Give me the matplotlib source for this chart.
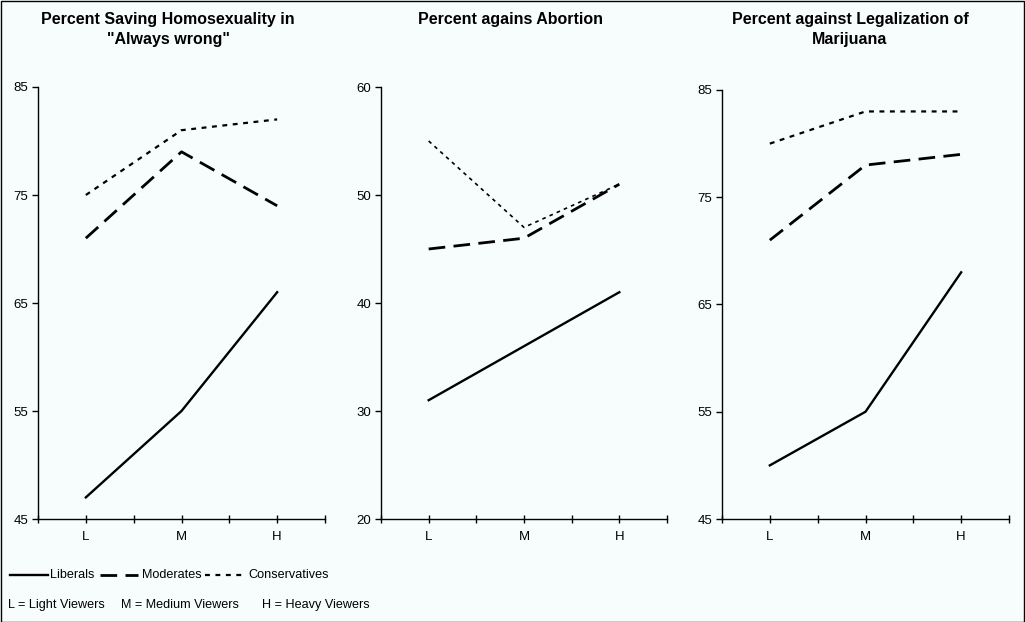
import matplotlib
matplotlib.use("Agg")
import matplotlib.pyplot as plt
from matplotlib.patches import Rectangle
from matplotlib.lines import Line2D

plt.rcParams['font.family'] = ['Liberation Sans', 'DejaVu Sans']

BG = '#f7fdfd'

# Data
categories = ['L', 'M', 'H']

homo_liberals = [47, 55, 66]
homo_moderates = [71, 79, 74]
homo_conservatives = [75, 81, 82]

abort_liberals = [31, 36, 41]
abort_moderates = [45, 46, 51]
abort_conservatives = [55, 47, 51]

mari_liberals = [50, 55, 68]
mari_moderates = [71, 78, 79]
mari_conservatives = [80, 83, 83]

titles = ['Percent Saving Homosexuality in\n"Always wrong"',
          'Percent agains Abortion',
          'Percent against Legalization of\nMarijuana']
y_ticks = [[45, 55, 65, 75, 85], [20, 30, 40, 50, 60], [45, 55, 65, 75, 85]]

panels = [
    (homo_liberals, homo_moderates, homo_conservatives),
    (abort_liberals, abort_moderates, abort_conservatives),
    (mari_liberals, mari_moderates, mari_conservatives),
]

# axes rectangles in pixels: left, right, top, bottom
boxes = [(38, 325, 87, 519), (381, 667, 87, 519), (722, 1009, 90, 519)]
title_x = [168, 511, 850]

W, H = 1025, 622
fig = plt.figure(figsize=(W / 100, H / 100), dpi=100, facecolor=BG)

styles = {
    'lib': dict(color='black', lw=1.7, linestyle='-'),
    'mod': dict(color='black', lw=2.0, linestyle=(0, (6, 3))),
    'con': dict(color='black', lw=1.6, linestyle=(0, (2.2, 2.5))),
}

for i, (series, box, yt) in enumerate(zip(panels, boxes, y_ticks)):
    l, r, t, b = box
    ax = fig.add_axes([l / W, (H - b) / H, (r - l) / W, (b - t) / H])
    ax.set_facecolor(BG)
    x = range(len(categories))
    lib, mod, con = series
    ax.plot(x, lib, **styles['lib'])
    ax.plot(x, mod, **styles['mod'])
    con_style = dict(styles['con'])
    if i == 1:
        con_style['lw'] = 1.2
    ax.plot(x, con, **con_style)

    ax.set_xlim(-0.5, 2.5)
    ax.set_ylim(yt[0], yt[-1])
    ax.set_yticks(yt)
    ax.set_xticks(list(x))
    ax.set_xticklabels(categories)
    ax.set_xticks([-0.5, 0.5, 1.5, 2.5], minor=True)
    for s in ['top', 'right']:
        ax.spines[s].set_visible(False)
    for s in ['left', 'bottom']:
        ax.spines[s].set_linewidth(1.0)
    ax.tick_params(axis='y', direction='out', length=4, width=1, labelsize=9.5, pad=3)
    ax.tick_params(axis='x', which='both', direction='inout', length=6, width=1,
                   labelsize=9.5, pad=6)
    fig.text(title_x[i] / W, 1 - 12 / H, titles[i], ha='center', va='top',
             fontsize=11.5, fontweight='bold', linespacing=1.42)

# legend drawn as lines in figure coordinates
leg_y = 1 - 575 / H
for (x0, x1), key, label, lx in [((10, 48), 'lib', 'Liberals', 50),
                                  ((100, 138), 'mod', 'Moderates', 142),
                                  ((205, 246), 'con', 'Conservatives', 248)]:
    fig.add_artist(Line2D([x0 / W, x1 / W], [leg_y, leg_y], **styles[key]))
    fig.text(lx / W, leg_y, label, ha='left', va='center', fontsize=9.1)

for lx, label in [(8, 'L = Light Viewers'), (121, 'M = Medium Viewers'),
                  (262, 'H = Heavy Viewers')]:
    fig.text(lx / W, 1 - 605 / H, label, ha='left', va='center', fontsize=9.1)

fig.add_artist(Rectangle((0.5 / W, 0.5 / H), 1 - 1.5 / W, 1 - 1.5 / H,
                         transform=fig.transFigure, fill=False,
                         edgecolor='black', lw=1))

fig.savefig('out.png', dpi=100, facecolor=BG)
